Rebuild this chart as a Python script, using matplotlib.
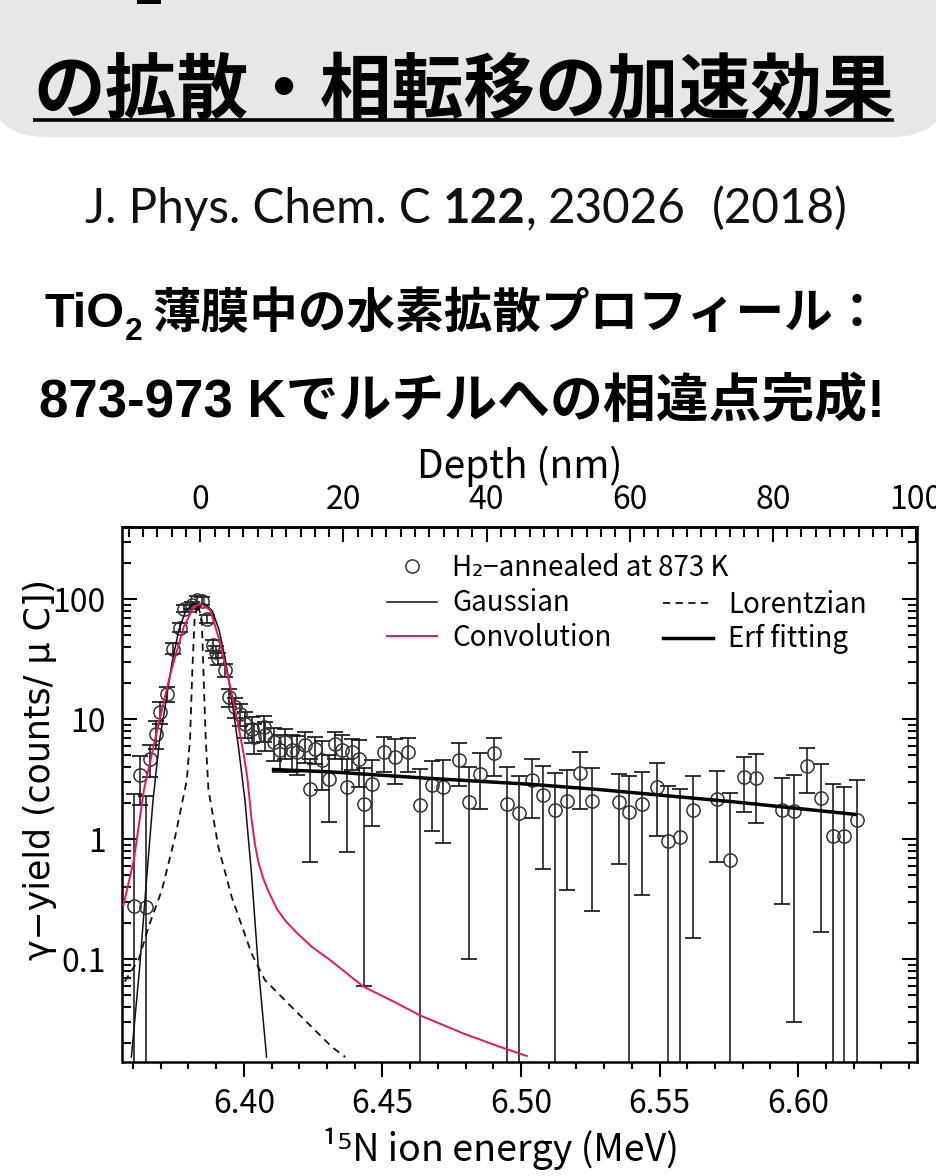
import matplotlib
matplotlib.use("Agg")
import matplotlib.pyplot as plt
from matplotlib.patches import FancyBboxPatch, Rectangle
from matplotlib.ticker import MultipleLocator, LogLocator, FuncFormatter, NullFormatter, FormatStrFormatter

plt.rcParams['font.family'] = ['Noto Sans CJK JP', 'DejaVu Sans']

# ---- data ----
# H2-annealed at 873 K : energy (MeV), yield, error
energy = [6.3602, 6.3626, 6.3646, 6.3662, 6.3682, 6.3698, 6.3722, 6.3746, 6.3770, 6.3785,
          6.3814, 6.3830, 6.3848, 6.3866, 6.3888, 6.3898, 6.3908, 6.3932, 6.3947, 6.3968,
          6.3986, 6.4004, 6.4030, 6.4035, 6.4071, 6.4078, 6.4107, 6.4132, 6.4150, 6.4174,
          6.4192, 6.4222, 6.4240, 6.4258, 6.4282, 6.4306, 6.4330, 6.4354, 6.4372, 6.4390,
          6.4414, 6.4432, 6.4462, 6.4504, 6.4546, 6.4594, 6.4636, 6.4679, 6.4720, 6.4775,
          6.4811, 6.4853, 6.4901, 6.4949, 6.4991, 6.5039, 6.5081, 6.5123, 6.5166, 6.5213,
          6.5256, 6.5352, 6.5388, 6.5436, 6.5490, 6.5532, 6.5574, 6.5622, 6.5706, 6.5754,
          6.5805, 6.5848, 6.5941, 6.5985, 6.6031, 6.6081, 6.6125, 6.6167, 6.6211]
counts = [0.277, 3.42, 0.27, 4.70, 7.6, 11.5, 16.2, 38.8, 58.1, 83.6,
          89, 99, 97, 69, 41.4, 36.4, 32.1, 25.6, 15.3, 12.7,
          11.0, 9.2, 8.35, 7.1, 8.6, 7.4, 6.5, 5.5, 6.5, 5.5,
          5.35, 6.07, 2.64, 5.7, 4.55, 3.2, 6.27, 5.5, 2.73, 5.35,
          4.7, 1.98, 2.91, 5.35, 4.86, 5.35, 1.92, 2.82, 2.73, 4.55,
          2.05, 3.52, 5.18, 1.98, 1.64, 3.10, 2.33, 1.75, 2.08, 3.57,
          2.08, 2.05, 1.69, 1.98, 2.70, 0.96, 1.05, 1.75, 2.18, 0.67,
          3.27, 3.25, 1.75, 1.72, 4.06, 2.22, 1.07, 1.07, 1.44]
counts_err = [2.1, 1.5, 2.0, 1.4, 2.0, 2.4, 2.4, 4.0, 5.0, 6.0,
              6.5, 7.0, 7.0, 5.5, 4.2, 4.0, 3.7, 3.3, 2.6, 2.4,
              2.3, 2.2, 2.0, 2.0, 2.1, 2.0, 2.0, 1.9, 1.8, 1.9,
              1.9, 1.77, 2.0, 1.45, 2.0, 1.8, 1.57, 1.86, 1.95, 1.55,
              2.0, 1.92, 1.63, 1.75, 1.95, 1.69, 1.92, 1.66, 1.8, 1.8,
              1.95, 1.72, 1.8, 2.0, 1.71, 1.6, 1.77, 1.78, 1.7, 1.8,
              1.83, 1.43, 1.70, 1.64, 1.64, 1.81, 1.59, 1.6, 1.53, 1.76,
              1.6, 1.88, 1.46, 1.69, 1.65, 2.05, 1.8, 1.66, 1.66]

gauss_e = [6.3594, 6.3624, 6.3650, 6.3672, 6.3695, 6.3714, 6.3740, 6.3765, 6.3790, 6.3815, 6.3838,
           6.3861, 6.3886, 6.3911, 6.3936, 6.3962, 6.3982, 6.4004, 6.4028, 6.4052, 6.4082]
gauss_y = [0.0153, 0.086, 0.5, 2.1, 6.5, 11.9, 29, 55, 80, 91, 92,
           91, 80, 55, 29, 11.9, 5.5, 2.1, 0.5, 0.086, 0.0153]

lor_e = [6.3570, 6.3621, 6.3656, 6.3704, 6.3752, 6.3794, 6.3806, 6.3814, 6.3822, 6.3833,
         6.3848, 6.3854, 6.3862, 6.3872, 6.3908, 6.3956, 6.4028, 6.4076, 6.4172, 6.4317, 6.4366]
lor_y = [0.065, 0.10, 0.186, 0.376, 1.05, 3.1, 7.1, 25.6, 67, 92,
         67, 25.6, 7.1, 2.6, 0.86, 0.33, 0.111, 0.067, 0.040, 0.0186, 0.0153]

conv_e = [6.3565, 6.3603, 6.3639, 6.3687, 6.3735, 6.3783, 6.3819, 6.3843, 6.3879, 6.3915,
          6.3951, 6.3981, 6.4000, 6.4012, 6.4020, 6.4028, 6.4040, 6.4052, 6.4070, 6.4088,
          6.4120, 6.4149, 6.4192, 6.4245, 6.4312, 6.4432, 6.4552, 6.4636, 6.4793, 6.4913, 6.5021]
conv_y = [0.28, 0.67, 2.56, 8.1, 24, 58.8, 86, 92, 81, 42.8,
          18.6, 8.6, 5.0, 3.3, 2.2, 1.45, 0.90, 0.65, 0.47, 0.37,
          0.26, 0.21, 0.165, 0.127, 0.098, 0.059, 0.043, 0.034, 0.024, 0.019, 0.0156]

erf_e = [6.4107, 6.4312, 6.4673, 6.5033, 6.5284, 6.5766, 6.6205]
erf_y = [3.81, 3.64, 3.21, 2.87, 2.59, 2.05, 1.61]

depth_ticks = [0, 20, 40, 60, 80, 100]


def e2d(e):
    return (e - 6.3843) / 0.0025821


def d2e(d):
    return d * 0.0025821 + 6.3843


fig = plt.figure(figsize=(9.37, 11.76), dpi=100)

# background axes in pixel units for the slide header
bg = fig.add_axes([0, 0, 1, 1])
bg.set_xlim(0, 937)
bg.set_ylim(1176, 0)
bg.axis('off')
bg.add_patch(FancyBboxPatch((-12, -80), 962, 217, boxstyle='round,pad=0,rounding_size=58',
                            fc='#e6e7e7', ec='none'))
bg.add_patch(Rectangle((137, 0), 24, 4, fc='black', ec='none'))

renderer = fig.canvas.get_renderer()


def place_row(pieces, xc, width):
    # pieces: (text, baseline y, gap after, text kwargs)
    arts = [bg.text(0, y, s, ha='left', va='baseline', **kw) for s, y, gap, kw in pieces]
    gaps = [p[2] for p in pieces]
    w = sum(a.get_window_extent(renderer).width for a in arts) + sum(gaps)
    k = width / w
    for a in arts:
        a.set_fontsize(a.get_fontsize() * k)
    ws = [a.get_window_extent(renderer).width for a in arts]
    x = xc - (sum(ws) + sum(gaps) * k) / 2
    for a, wi, g in zip(arts, ws, gaps):
        a.set_x(x)
        x += wi + g * k


jp_bold = dict(family=['Noto Sans CJK JP', 'DejaVu Sans'], weight='bold', color='black')
place_row([("の拡散・相転移の加速効果", 112, 0, dict(fontsize=52, **jp_bold))], 463.5, 861)
bg.plot([33, 894], [120, 120], color='black', lw=2.6, solid_capstyle='butt')

cite = dict(family=['Lato', 'DejaVu Sans'], fontsize=32, color='#111111')
place_row([("J. Phys. Chem. C", 223, 11, cite),
           ("122", 223, 0, dict(cite, weight='bold')),
           (",", 223, 11, cite),
           ("23026", 223, 24, cite),
           ("(2018)", 223, 0, cite)], 466.5, 765)

lat_bold = dict(family=['Liberation Sans', 'Noto Sans CJK JP', 'DejaVu Sans'], weight='bold', color='black')
place_row([("TiO", 326.7, 0, dict(fontsize=35, **lat_bold)),
           ("2", 340, 10, dict(fontsize=23, **lat_bold)),
           ("薄膜中の水素拡散プロフィール：", 328, 0, dict(fontsize=35, **lat_bold))], 463.5, 837)
place_row([("873-973 Kでルチルへの相違点完成!", 416.7, 0, dict(fontsize=35, **lat_bold))], 462, 846)

# ---- chart ----
ax = fig.add_axes([122.5 / 937, 114 / 1176, 794.5 / 937, 535 / 1176])
ax.set_yscale('log')

ax.errorbar(energy, counts, yerr=counts_err, fmt='none', ecolor='#111111',
            elinewidth=1.1, capsize=5.5, capthick=1.2, zorder=2)
pts, = ax.plot(energy, counts, 'o', ms=9.5, mfc='none', mec='#333333', mew=1.1, zorder=3)
gauss, = ax.plot(gauss_e, gauss_y, color='#111111', lw=1.1, zorder=4)
lor, = ax.plot(lor_e, lor_y, color='#111111', lw=1.3, ls=(0, (4, 3)), zorder=4)
conv, = ax.plot(conv_e, conv_y, color='#e8175d', lw=1.4, zorder=5)
erf, = ax.plot(erf_e, erf_y, color='black', lw=2.5, zorder=5)

ax.set_xlim(6.3562, 6.6429)
ax.set_ylim(0.0139, 400)

ax.xaxis.set_major_locator(MultipleLocator(0.05))
ax.xaxis.set_minor_locator(MultipleLocator(0.01))
ax.xaxis.set_major_formatter(FormatStrFormatter('%.2f'))
ax.yaxis.set_major_locator(LogLocator(base=10))
ax.yaxis.set_minor_locator(LogLocator(base=10, subs=range(2, 10)))
ax.yaxis.set_major_formatter(FuncFormatter(lambda v, p: '%g' % v))
ax.yaxis.set_minor_formatter(NullFormatter())

ax.tick_params(axis='x', which='both', direction='out', top=False, bottom=True,
               width=1.5, labelsize=23, pad=8)
ax.tick_params(axis='x', which='major', length=11)
ax.tick_params(axis='x', which='minor', length=5)
ax.tick_params(axis='y', which='both', direction='in', left=True, right=True,
               width=1.5, labelsize=23, pad=12)
ax.tick_params(axis='y', which='major', length=11)
ax.tick_params(axis='y', which='minor', length=6.5)
for s in ax.spines.values():
    s.set_linewidth(1.8)

sec = ax.secondary_xaxis('top', functions=(e2d, d2e))
sec.set_xticks(depth_ticks)
sec.xaxis.set_minor_locator(MultipleLocator(2))
sec.tick_params(which='both', direction='in', width=1.5, labelsize=23, pad=8)
sec.tick_params(which='major', length=11)
sec.tick_params(which='minor', length=7)
sec.spines['top'].set_linewidth(1.8)
ax.text(0.5, 1.114, 'Depth (nm)', transform=ax.transAxes, fontsize=28,
        ha='center', va='center')

ax.set_xlabel('¹⁵N ion energy (MeV)', fontsize=27, va='center')
ax.xaxis.set_label_coords(0.476, -0.162)
ax.set_ylabel('γ−yield (counts/ μ C])', fontsize=25, va='center',
              family=['DejaVu Sans', 'Noto Sans CJK JP'])
ax.yaxis.set_label_coords(-0.104, 0.546)

leg_kw = dict(frameon=False, fontsize=20, borderpad=0, borderaxespad=0,
              handlelength=1.8, handletextpad=0.55, labelspacing=0.15)
leg1 = ax.legend([pts], ['H₂−annealed at 873 K'], loc='center left',
                 bbox_to_anchor=(0.333, 0.9234), **leg_kw)
ax.add_artist(leg1)
leg2 = ax.legend([gauss, conv], ['Gaussian', 'Convolution'], loc='center left',
                 bbox_to_anchor=(0.333, 0.8252), **leg_kw)
ax.add_artist(leg2)
ax.legend([lor, erf], ['Lorentzian', 'Erf fitting'], loc='center left',
          bbox_to_anchor=(0.680, 0.822), **leg_kw)

fig.savefig('out.png', dpi=100)
